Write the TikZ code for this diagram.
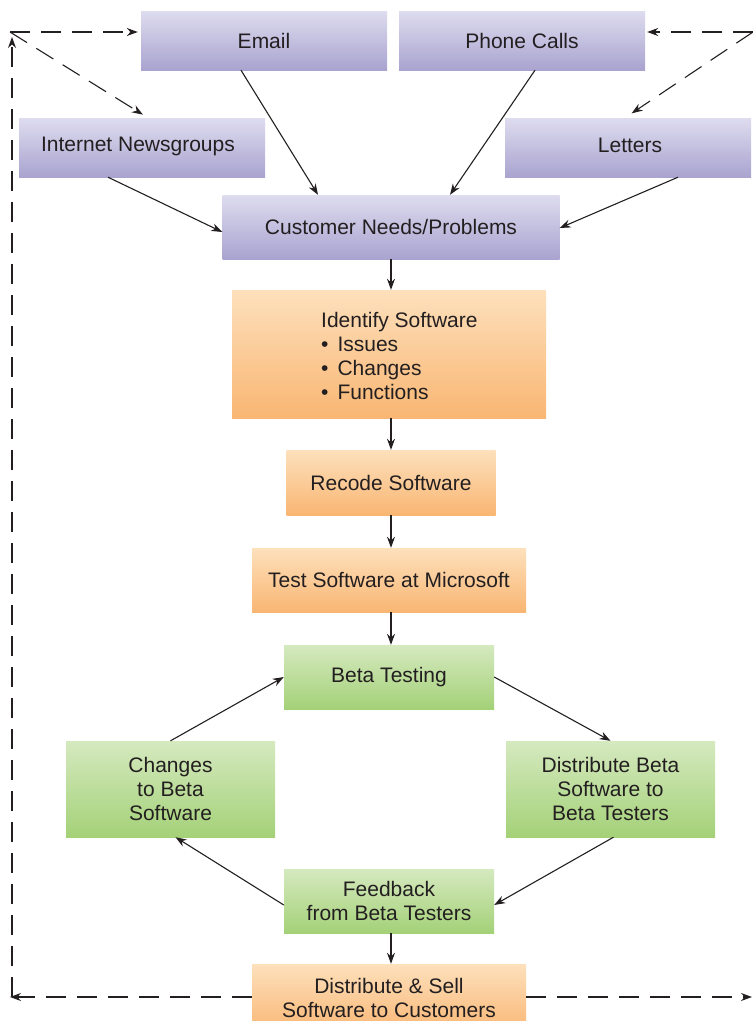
\documentclass[tikz,border=0pt]{standalone}
\usepackage{fontspec}
\setmainfont{Liberation Sans}
\usetikzlibrary{arrows.meta,calc}
\definecolor{ink}{HTML}{231F20}
\definecolor{purpleTop}{HTML}{DEDCEF}
\definecolor{purpleBot}{HTML}{A9A3CF}
\definecolor{orangeTop}{HTML}{FDE0BC}
\definecolor{orangeBot}{HTML}{F9B673}
\definecolor{greenTop}{HTML}{D5E9BF}
\definecolor{greenBot}{HTML}{A4D178}
\begin{document}
\begin{tikzpicture}[x=1pt,y=-1pt,
  every node/.style={font=\fontsize{21}{24}\selectfont, text=ink, inner sep=0pt, align=center},
  box/.style args={#1x#2}{rectangle, minimum width=#1pt, minimum height=#2pt},
  purplebox/.style={box=#1, top color=purpleTop, bottom color=purpleBot},
  orangebox/.style={box=#1, top color=orangeTop, bottom color=orangeBot},
  greenbox/.style={box=#1, top color=greenTop, bottom color=greenBot},
  link/.style={draw=ink, line width=1.1pt, -{Stealth[length=11pt,width=8pt]}},
  loop/.style={draw=ink, line width=1.1pt, dash pattern=on 20pt off 11pt, -{Stealth[length=11pt,width=8pt]}}]
\clip (0,0) rectangle (753,1021);
\useasboundingbox (0,0) rectangle (753,1021);

% input channels
\node[purplebox=246x59] (email)  at (264,40.5)  {Email};
\node[purplebox=246x59] (phone)  at (522,40.5)  {Phone Calls};
\node[purplebox=246x59] (news)   at (142,147.5) {};
\node (newstxt) at (138,146.5) {Internet Newsgroups};
\node[purplebox=246x59] (letters) at (628,147.5) {};
\node (letterstxt) at (630,145.5) {Letters};
\node[purplebox=337x64] (cust)   at (391,227)   {Customer Needs/Problems};

% development steps
\node[orangebox=314x128] (ident) at (389,354) {};
\node[anchor=west, align=left] (identtxt) at (321,356)
  {Identify Software\\\textbullet\hspace{9pt}Issues\\\textbullet\hspace{9pt}Changes\\\textbullet\hspace{9pt}Functions};
\node[orangebox=209x65] (recode) at (391,482.5) {Recode Software};
\node[orangebox=274x64] (test)   at (389,580)   {Test Software at Microsoft};

% beta cycle
\node[greenbox=210x64] (beta)    at (389,677)   {Beta Testing};
\node[greenbox=209x96] (changes) at (170.5,789) {Changes\\to Beta\\Software};
\node[greenbox=209x96] (dist)    at (610.5,789) {Distribute Beta\\Software to\\Beta Testers};
\node[greenbox=210x64] (fb)      at (389,901)   {Feedback\\from Beta Testers};

% release
\node[orangebox=274x70] (sell) at (389,999) {};
\node (selltxt) at (389,998) {Distribute \& Sell\\Software to Customers};

% feedback loop corners
\coordinate (tl) at (12,32);
\coordinate (bl) at (12,997);
\coordinate (tr) at (753,32);
\coordinate (br) at (752,997);

% solid connectors
\draw[link] ([xshift=-23pt]email.south) -- ([xshift=-73pt]cust.north);
\draw[link] ([xshift=13pt]phone.south) -- ([xshift=59pt]cust.north);
\draw[link] ([xshift=-34pt]news.south) -- ([yshift=-5pt]cust.west);
\draw[link] ([xshift=50pt]letters.south) -- ([yshift=-1pt]cust.east);
\draw[link] (cust.south) -- (cust.south |- ident.north);
\draw[link] (ident.south -| cust.south) -- (cust.south |- recode.north);
\draw[link] (recode.south) -- (recode.south |- test.north);
\draw[link] (test.south -| recode.south) -- (recode.south |- beta.north);
\draw[link] (beta.east) -- (dist.north);
\draw[link] ([xshift=3pt]dist.south) -- ([yshift=-4pt]fb.east);
\draw[link] ([yshift=-4pt]fb.west) -- ([xshift=5pt]changes.south);
\draw[link] (changes.north) -- (beta.west);
\draw[link] (fb.south -| recode.south) -- (recode.south |- sell.north);

% dashed loop back to the customers
\draw[loop] (sell.west |- bl) -- ([xshift=-2pt]bl);
\draw[loop, shorten >=5pt] (bl) -- (tl);
\draw[loop] (sell.east |- br) -- (br);
\draw[loop, shorten >=3pt] ([xshift=-2pt]tl) -- (tl -| email.west);
\draw[loop, shorten >=6pt] ([xshift=-2pt]tl) -- ([xshift=6pt]news.north);
\draw[loop, shorten >=2pt] (tr) -- (tr -| phone.east);
\draw[loop, shorten >=8pt] (tr) -- ([xshift=-3pt]letters.north);
\end{tikzpicture}
\end{document}
